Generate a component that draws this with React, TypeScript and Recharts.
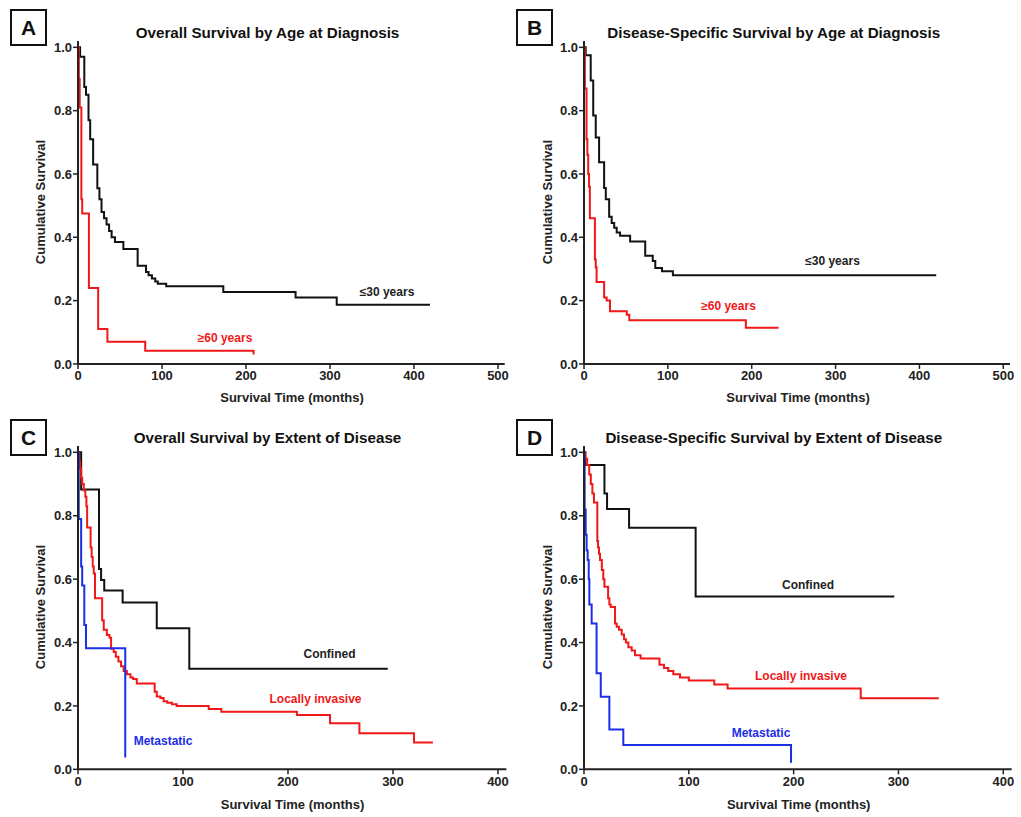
import { LineChart, Line, XAxis, YAxis } from "recharts";

// Panel A: overall survival by age at diagnosis
const aYoungT = [0, 2.5, 7.5, 9.5, 12.5, 14.5, 18, 23, 25.5, 28, 31, 34, 37, 40, 44, 54, 71, 81, 84, 88, 92, 95, 105, 173, 259, 308, 419];
const aYoungS = [1.0, 0.97, 0.875, 0.85, 0.77, 0.71, 0.63, 0.555, 0.52, 0.48, 0.46, 0.44, 0.42, 0.4, 0.385, 0.363, 0.31, 0.29, 0.28, 0.27, 0.26, 0.253, 0.245, 0.227, 0.21, 0.187, 0.187];
const aOldT = [0, 1, 2, 4, 5, 13, 24, 35, 80, 209];
const aOldS = [1.0, 0.9, 0.81, 0.52, 0.475, 0.24, 0.11, 0.07, 0.042, 0.03];

// Panel B: disease-specific survival by age at diagnosis
const bYoungT = [0, 2, 8, 11, 14, 18, 24, 26, 30, 33, 36, 39, 43, 55, 73, 82, 85, 93, 106, 420];
const bYoungS = [1.0, 0.975, 0.895, 0.785, 0.715, 0.637, 0.556, 0.52, 0.465, 0.445, 0.43, 0.415, 0.405, 0.387, 0.342, 0.325, 0.303, 0.293, 0.28, 0.28];
const bOldT = [0, 1, 3, 4, 5, 6, 7, 13, 14, 15, 24, 27, 31, 51, 54, 193, 232];
const bOldS = [1.0, 0.87, 0.71, 0.66, 0.6, 0.56, 0.46, 0.33, 0.305, 0.259, 0.21, 0.2, 0.166, 0.155, 0.138, 0.114, 0.114];

// Panel C: overall survival by extent of disease
const cConfT = [0, 3, 20, 22, 25, 42.5, 75, 106, 295];
const cConfS = [1.0, 0.883, 0.632, 0.597, 0.564, 0.526, 0.445, 0.317, 0.317];
const cLocT = [0, 1, 2, 3, 4, 5.5, 7, 8, 8.7, 12, 13, 14, 15, 16.2, 23, 24.5, 27.5, 30, 31.5, 34, 36, 38.5, 41, 43.5, 46.5, 50, 52.5, 56, 73, 75, 78.5, 81.5, 85, 89.5, 94, 124.5, 136.5, 208.5, 240, 268, 320, 338];
const cLocS = [1.0, 0.97, 0.95, 0.92, 0.9, 0.88, 0.86, 0.83, 0.763, 0.7, 0.67, 0.64, 0.618, 0.54, 0.47, 0.44, 0.424, 0.415, 0.38, 0.37, 0.355, 0.34, 0.325, 0.31, 0.3, 0.29, 0.285, 0.271, 0.245, 0.23, 0.225, 0.215, 0.21, 0.205, 0.2, 0.19, 0.182, 0.171, 0.145, 0.114, 0.085, 0.085];
const cMetT = [0, 0.7, 3, 4, 6, 7.6, 45];
const cMetS = [1.0, 0.79, 0.64, 0.58, 0.455, 0.382, 0.037];

// Panel D: disease-specific survival by extent of disease
const dConfT = [0, 1, 19.5, 22, 43, 106.5, 296];
const dConfS = [1.0, 0.96, 0.87, 0.821, 0.762, 0.545, 0.545];
const dLocT = [0, 1.5, 3, 5, 6.5, 8, 9.5, 12.7, 13.4, 14.3, 15.3, 17, 18.4, 19.5, 23, 24.2, 25.5, 29.6, 31.2, 33.4, 36, 38.2, 40, 42.3, 45.5, 48.6, 54, 72, 76.3, 80.4, 85.2, 91.6, 100, 124.3, 137, 264, 338.5];
const dLocS = [1.0, 0.98, 0.96, 0.93, 0.9, 0.87, 0.842, 0.72, 0.7, 0.68, 0.66, 0.629, 0.6, 0.576, 0.54, 0.52, 0.512, 0.46, 0.45, 0.44, 0.425, 0.41, 0.4, 0.385, 0.375, 0.36, 0.35, 0.33, 0.32, 0.31, 0.3, 0.29, 0.28, 0.268, 0.255, 0.224, 0.224];
const dMetT = [0, 0.6, 1.6, 2.5, 3.5, 4.5, 5.1, 7.3, 12, 16, 24.2, 37.5, 197.5];
const dMetS = [1.0, 0.82, 0.74, 0.69, 0.66, 0.6, 0.52, 0.46, 0.303, 0.229, 0.126, 0.077, 0.021];

const yTicks = [0, 0.2, 0.4, 0.6, 0.8, 1.0];
const ticks500 = [0, 100, 200, 300, 400, 500];
const ticks400 = [0, 100, 200, 300, 400];

const FONT = "'Liberation Sans', Arial, Helvetica, sans-serif";
const BLACK = "#111111";
const RED = "#f01818";
const BLUE = "#1c2ee6";
const AXIS = "#222222";
const Y_MAX = 1.02;

const zip = (t: number[], s: number[]) => t.map((v, i) => ({ t: v, s: s[i] }));

interface Curve { name: string; t: number[]; s: number[]; color: string }
interface Tag { text: string; x: number; y: number; color: string }
interface Panel {
  letter: string;
  title: string;
  box: [number, number];
  titlePos: [number, number];
  yLabelPos: [number, number];
  xLabelPos: [number, number];
  px0: number; pxTick: number; tickMax: number; xMax: number;
  py1: number; py0: number;
  ticks: number[];
  curves: Curve[];
  tags: Tag[];
}

const panels: Panel[] = [
  {
    letter: "A", title: "Overall Survival by Age at Diagnosis",
    box: [10, 9], titlePos: [267.5, 33], yLabelPos: [40, 202], xLabelPos: [292, 397],
    px0: 77.7, pxTick: 497.7, tickMax: 500, xMax: 508, py1: 47.7, py0: 364.3, ticks: ticks500,
    curves: [
      { name: "≤30 years", t: aYoungT, s: aYoungS, color: BLACK },
      { name: "≥60 years", t: aOldT, s: aOldS, color: RED },
    ],
    tags: [
      { text: "≤30 years", x: 387, y: 292, color: "#222" },
      { text: "≥60 years", x: 225, y: 338, color: RED },
    ],
  },
  {
    letter: "B", title: "Disease-Specific Survival by Age at Diagnosis",
    box: [516, 9], titlePos: [773.8, 33], yLabelPos: [546.7, 202], xLabelPos: [798, 397],
    px0: 584, pxTick: 1003.3, tickMax: 500, xMax: 508, py1: 47.7, py0: 364.3, ticks: ticks500,
    curves: [
      { name: "≤30 years", t: bYoungT, s: bYoungS, color: BLACK },
      { name: "≥60 years", t: bOldT, s: bOldS, color: RED },
    ],
    tags: [
      { text: "≤30 years", x: 832.5, y: 261, color: "#222" },
      { text: "≥60 years", x: 728.5, y: 306, color: RED },
    ],
  },
  {
    letter: "C", title: "Overall Survival by Extent of Disease",
    box: [10, 419], titlePos: [267.5, 438], yLabelPos: [40, 607], xLabelPos: [292.5, 804],
    px0: 77.7, pxTick: 497.7, tickMax: 400, xMax: 408, py1: 452.3, py0: 769.3, ticks: ticks400,
    curves: [
      { name: "Confined", t: cConfT, s: cConfS, color: BLACK },
      { name: "Locally invasive", t: cLocT, s: cLocS, color: RED },
      { name: "Metastatic", t: cMetT, s: cMetS, color: BLUE },
    ],
    tags: [
      { text: "Confined", x: 329.5, y: 654, color: "#222" },
      { text: "Locally invasive", x: 315.5, y: 699, color: RED },
      { text: "Metastatic", x: 163, y: 741, color: BLUE },
    ],
  },
  {
    letter: "D", title: "Disease-Specific Survival by Extent of Disease",
    box: [516, 419], titlePos: [773.8, 438], yLabelPos: [546.7, 607], xLabelPos: [798.7, 804],
    px0: 584, pxTick: 1003.3, tickMax: 400, xMax: 408, py1: 452.3, py0: 769.3, ticks: ticks400,
    curves: [
      { name: "Confined", t: dConfT, s: dConfS, color: BLACK },
      { name: "Locally invasive", t: dLocT, s: dLocS, color: RED },
      { name: "Metastatic", t: dMetT, s: dMetS, color: BLUE },
    ],
    tags: [
      { text: "Confined", x: 808, y: 585, color: "#222" },
      { text: "Locally invasive", x: 801, y: 676, color: RED },
      { text: "Metastatic", x: 761, y: 733, color: BLUE },
    ],
  },
];

const tickStyle = { fontSize: 13, fontWeight: "bold", fill: AXIS, fontFamily: FONT };

function centered(x: number, y: number, extra: React.CSSProperties = {}): React.CSSProperties {
  return {
    position: "absolute", left: x, top: y, transform: "translate(-50%, -50%)",
    whiteSpace: "nowrap", fontFamily: FONT, fontWeight: "bold", lineHeight: 1, ...extra,
  };
}

function KMPanel({ p }: { p: Panel }) {
  const sx = (p.pxTick - p.px0) / p.tickMax;
  const sy = p.py0 - p.py1;
  const plotTop = p.py0 - Y_MAX * sy;
  const plotW = p.xMax * sx;
  const plotH = Y_MAX * sy;
  const AXW = 50, AXH = 30, PAD = 8;
  const left = p.px0 - AXW;
  const top = plotTop - PAD;

  return (
    <>
      <div style={{ position: "absolute", left, top }}>
        <LineChart width={AXW + plotW + PAD} height={PAD + plotH + AXH}
          margin={{ top: PAD, right: PAD, bottom: 0, left: 0 }}>
          <XAxis type="number" dataKey="t" domain={[0, p.xMax]} ticks={p.ticks} height={AXH}
            axisLine={{ stroke: AXIS, strokeWidth: 2 }} tickLine={{ stroke: AXIS, strokeWidth: 1.5 }}
            tickSize={5} tickMargin={2} tick={tickStyle} interval={0} />
          <YAxis type="number" domain={[0, Y_MAX]} ticks={yTicks} width={AXW}
            axisLine={{ stroke: AXIS, strokeWidth: 2 }} tickLine={{ stroke: AXIS, strokeWidth: 1.5 }}
            tickSize={5} tickMargin={1} tick={tickStyle} interval={0}
            tickFormatter={(v: number) => v.toFixed(1)} />
          {p.curves.map((c) => (
            <Line key={c.name} data={zip(c.t, c.s)} dataKey="s" name={c.name} type="stepAfter"
              stroke={c.color} strokeWidth={2} dot={false} activeDot={false} isAnimationActive={false} />
          ))}
        </LineChart>
      </div>

      <div style={{
        position: "absolute", left: p.box[0], top: p.box[1], width: 33, height: 33,
        border: `2px solid ${BLACK}`, display: "flex", alignItems: "center", justifyContent: "center",
        fontFamily: FONT, fontWeight: "bold", fontSize: 21, color: BLACK, background: "#fff",
      }}>{p.letter}</div>

      <div style={centered(p.titlePos[0], p.titlePos[1], { fontSize: 15.2, color: BLACK })}>{p.title}</div>
      <div style={centered(p.xLabelPos[0], p.xLabelPos[1], { fontSize: 13, color: AXIS })}>Survival Time (months)</div>
      <div style={centered(p.yLabelPos[0], p.yLabelPos[1], {
        fontSize: 13, color: AXIS, transform: "translate(-50%, -50%) rotate(-90deg)",
      })}>Cumulative Survival</div>

      {p.tags.map((g) => (
        <div key={g.text} style={centered(g.x, g.y, { fontSize: 12, color: g.color })}>{g.text}</div>
      ))}
    </>
  );
}

export default function App() {
  return (
    <div style={{ position: "absolute", left: 0, top: 0, width: 1021, height: 817, background: "#fff", overflow: "hidden" }}>
      {panels.map((p) => <KMPanel key={p.letter} p={p} />)}
    </div>
  );
}
